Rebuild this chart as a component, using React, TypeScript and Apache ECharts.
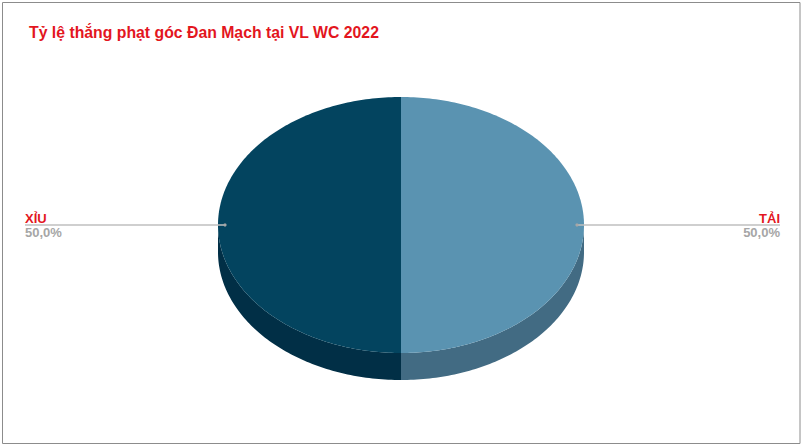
import React from 'react';
import * as echarts from 'echarts';

// chart data
const categories = ['TẢI', 'XỈU'];
const shares = [50, 50];
const topColors = ['#5A93B1', '#03445F'];
const sideColors = ['#426B83', '#012F46'];
const titleText = 'Tỷ lệ thắng phạt góc Đan Mạch tại VL WC 2022';

// geometry of the tilted pie
const CX = 401;
const CY = 225;
const RX = 183;
const RY = 128;
const DEPTH = 27;

const pt = (deg: number, dy = 0) => {
  const r = (deg * Math.PI) / 180;
  return [CX + RX * Math.sin(r), CY - RY * Math.cos(r) + dy];
};

const arc = (a0: number, a1: number, dy = 0) => {
  const pts: number[][] = [];
  const n = Math.max(2, Math.ceil(a1 - a0));
  for (let k = 0; k <= n; k++) pts.push(pt(a0 + ((a1 - a0) * k) / n, dy));
  return pts;
};

const fmtPct = (v: number) => v.toFixed(1).replace('.', ',') + '%';

const App = () => {
  const chartRef = React.useRef(null);

  React.useEffect(() => {
    const myChart = echarts.init(chartRef.current, null, { renderer: 'svg' });
    const total = shares.reduce((a, b) => a + b, 0);

    const renderItem = (params: any, api: any) => {
      const i = params.dataIndex;
      const W = api.getWidth();
      const before = shares.slice(0, i).reduce((a, b) => a + b, 0);
      const start = (before / total) * 360;
      const end = start + (api.value(0) / total) * 360;
      const children: any[] = [];

      // side wall (front half only)
      const s = Math.max(start, 90);
      const e = Math.min(end, 270);
      if (e > s) {
        children.push({
          type: 'polygon',
          z2: 1,
          shape: { points: arc(s, e).concat(arc(s, e, DEPTH).reverse()) },
          style: { fill: sideColors[i] },
        });
      }

      // top face
      children.push({
        type: 'polygon',
        z2: 2,
        shape: { points: [[CX, CY]].concat(arc(start, end)) },
        style: { fill: topColors[i] },
      });

      // leader line + labels
      const mid = ((start + end) / 2) * (Math.PI / 180);
      const right = Math.sin(mid) > 0;
      const dx = CX + (RX - 7) * Math.sin(mid);
      const dy = CY - (RY - 7) * Math.cos(mid);
      const endX = right ? W - 22 : 25;
      children.push({
        type: 'line',
        z2: 3,
        shape: { x1: dx, y1: dy, x2: endX, y2: dy },
        style: { stroke: '#BFBFBF', lineWidth: 1.5 },
      });
      children.push({
        type: 'circle',
        z2: 4,
        shape: { cx: dx, cy: dy, r: 1.6 },
        style: { fill: '#A6A6A6' },
      });
      children.push({
        type: 'text',
        z2: 4,
        x: endX,
        y: dy,
        style: {
          text: categories[i],
          fill: '#E3161E',
          font: 'bold 13px "Liberation Sans", Arial, sans-serif',
          align: right ? 'right' : 'left',
          verticalAlign: 'bottom',
        },
      });
      children.push({
        type: 'text',
        z2: 4,
        x: endX,
        y: dy + 1,
        style: {
          text: fmtPct((api.value(0) / total) * 100),
          fill: '#A6A6A6',
          font: 'bold 13px "Liberation Sans", Arial, sans-serif',
          align: right ? 'right' : 'left',
          verticalAlign: 'top',
        },
      });

      return { type: 'group', children };
    };

    const option: any = {
      animation: false,
      backgroundColor: '#fff',
      title: {
        text: titleText,
        left: 24,
        top: 19,
        textStyle: {
          color: '#E3161E',
          fontSize: 15.8,
          fontWeight: 'bold',
          fontFamily: '"Liberation Sans", Arial, sans-serif',
        },
      },
      graphic: [
        {
          type: 'rect',
          silent: true,
          shape: { x: 2.5, y: 2.5, width: 797.5, height: 441 },
          style: { fill: 'none', stroke: '#8C8C8C', lineWidth: 1 },
        },
      ],
      series: [
        {
          type: 'custom',
          coordinateSystem: 'none',
          renderItem,
          data: shares.map((v, i) => ({ value: v, name: categories[i] })),
        },
      ],
    };

    myChart.setOption(option);

    return () => {
      myChart.dispose();
    };
  }, []);

  return (
    <div
      ref={chartRef}
      style={{ position: 'absolute', left: 0, top: 0, width: '802px', height: '447px' }}
    />
  );
};

export default App;
